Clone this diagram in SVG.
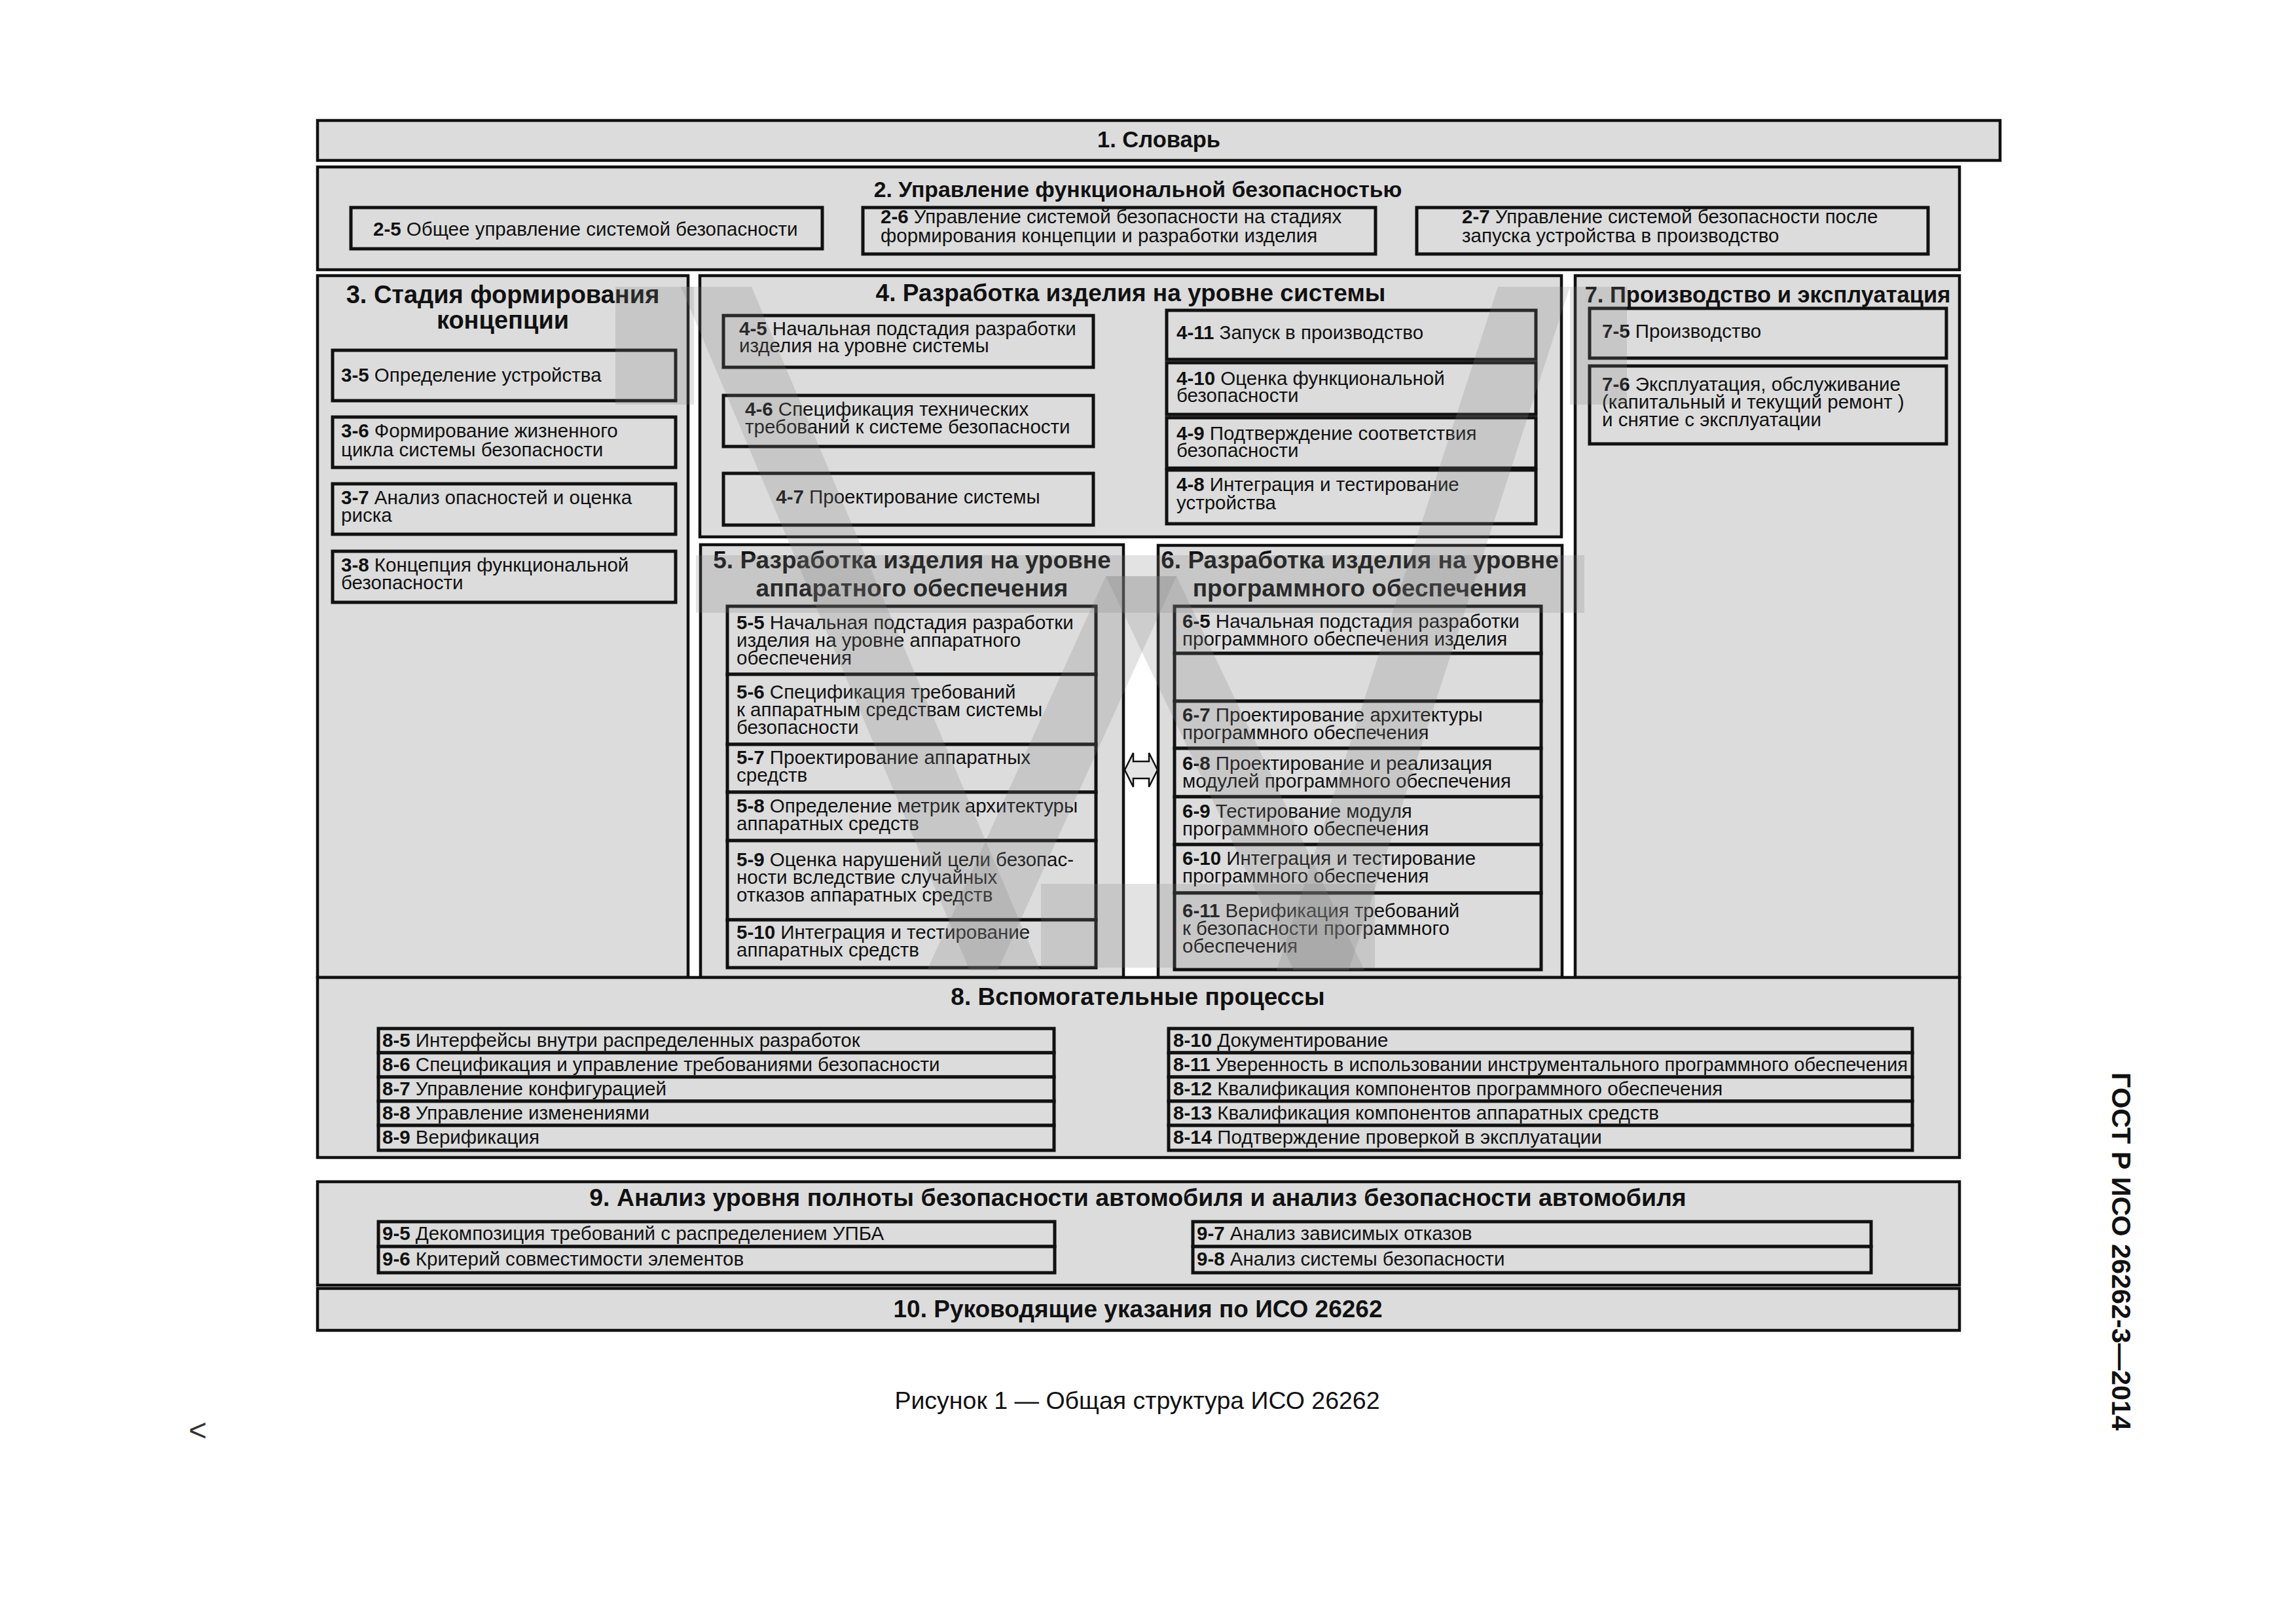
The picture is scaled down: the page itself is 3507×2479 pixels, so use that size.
<svg xmlns="http://www.w3.org/2000/svg" width="3507" height="2479" viewBox="0 0 3507 2479">
<style>
.sec{fill:#dcdcdc;stroke:#111;stroke-width:4.5}
.box{fill:#dcdcdc;stroke:#111;stroke-width:5}
text{font-family:'Liberation Sans',Arial,sans-serif;fill:#111}
.t{font-size:29.5px}
.b{font-weight:bold}
.h{font-size:37px;font-weight:bold;text-anchor:middle}
.h2{font-size:34.5px;font-weight:bold;text-anchor:middle}
.wm{fill:#808080;fill-opacity:0.22}
</style>
<rect width="3507" height="2479" fill="#fff"/>

<g id="n1">
<rect class="sec" x="485" y="184" width="2570" height="61"/>
<text class="h2" x="1770" y="225">1. Словарь</text>
</g>

<g id="n2">
<rect class="sec" x="485" y="255" width="2508" height="157"/>
<text class="h2" x="1738" y="301" style="font-size:33.8px">2. Управление функциональной безопасностью</text>
<g id="n2-5"><rect class="box" x="536" y="317" width="720" height="63"/>
<text class="t" x="570" y="360"><tspan class="b">2-5</tspan> Общее управление системой безопасности</text></g>
<g id="n2-6"><rect class="box" x="1318" y="317" width="783" height="71"/>
<text class="t" x="1345" y="341"><tspan class="b">2-6</tspan> Управление системой безопасности на стадиях</text>
<text class="t" x="1345" y="370">формирования концепции и разработки изделия</text></g>
<g id="n2-7"><rect class="box" x="2164" y="317" width="781" height="71"/>
<text class="t" x="2233" y="341"><tspan class="b">2-7</tspan> Управление системой безопасности после</text>
<text class="t" x="2233" y="370">запуска устройства в производство</text></g>
</g>

<g id="n3">
<rect class="sec" x="485" y="421" width="566" height="1072"/>
<text class="h" x="768" y="463" style="font-size:38px">3. Стадия формирования</text>
<text class="h" x="768" y="502" style="font-size:38px">концепции</text>
<g id="n3-5"><rect class="box" x="508" y="535" width="524" height="77"/>
<text class="t" x="521" y="583"><tspan class="b">3-5</tspan> Определение устройства</text></g>
<g id="n3-6"><rect class="box" x="508" y="637" width="524" height="77"/>
<text class="t" x="521" y="668"><tspan class="b">3-6</tspan> Формирование жизненного</text>
<text class="t" x="521" y="697">цикла системы безопасности</text></g>
<g id="n3-7"><rect class="box" x="508" y="739" width="524" height="77"/>
<text class="t" x="521" y="770"><tspan class="b">3-7</tspan> Анализ опасностей и оценка</text>
<text class="t" x="521" y="797">риска</text></g>
<g id="n3-8"><rect class="box" x="508" y="842" width="524" height="78"/>
<text class="t" x="521" y="873"><tspan class="b">3-8</tspan> Концепция функциональной</text>
<text class="t" x="521" y="900">безопасности</text></g>
</g>

<g id="n4">
<rect class="sec" x="1069" y="421" width="1316" height="399"/>
<text class="h" x="1727" y="460">4. Разработка изделия на уровне системы</text>
<g id="n4-5"><rect class="box" x="1105" y="482" width="565" height="79"/>
<text class="t" x="1129" y="512"><tspan class="b">4-5</tspan> Начальная подстадия разработки</text>
<text class="t" x="1129" y="538">изделия на уровне системы</text></g>
<g id="n4-6"><rect class="box" x="1105" y="604" width="565" height="78"/>
<text class="t" x="1138" y="635"><tspan class="b">4-6</tspan> Спецификация технических</text>
<text class="t" x="1138" y="662">требований к системе безопасности</text></g>
<g id="n4-7"><rect class="box" x="1105" y="723" width="565" height="79"/>
<text class="t" x="1387" y="769" text-anchor="middle"><tspan class="b">4-7</tspan> Проектирование системы</text></g>
<g id="n4-11"><rect class="box" x="1782" y="474" width="564" height="75"/>
<text class="t" x="1797" y="518"><tspan class="b">4-11</tspan> Запуск в производство</text></g>
<g id="n4-10"><rect class="box" x="1782" y="554" width="564" height="79"/>
<text class="t" x="1797" y="588"><tspan class="b">4-10</tspan> Оценка функциональной</text>
<text class="t" x="1797" y="614">безопасности</text></g>
<g id="n4-9"><rect class="box" x="1782" y="638" width="564" height="77"/>
<text class="t" x="1797" y="672"><tspan class="b">4-9</tspan> Подтверждение соответствия</text>
<text class="t" x="1797" y="698">безопасности</text></g>
<g id="n4-8"><rect class="box" x="1782" y="718" width="564" height="82"/>
<text class="t" x="1797" y="750"><tspan class="b">4-8</tspan> Интеграция и тестирование</text>
<text class="t" x="1797" y="778">устройства</text></g>
</g>

<g id="n7">
<rect class="sec" x="2406" y="421" width="587" height="1072"/>
<text class="h2" x="2700" y="462">7. Производство и эксплуатация</text>
<g id="n7-5"><rect class="box" x="2428" y="471" width="545" height="76"/>
<text class="t" x="2447" y="516"><tspan class="b">7-5</tspan> Производство</text></g>
<g id="n7-6"><rect class="box" x="2428" y="559" width="545" height="119"/>
<text class="t" x="2447" y="597"><tspan class="b">7-6</tspan> Эксплуатация, обслуживание</text>
<text class="t" x="2447" y="624">(капитальный и текущий ремонт )</text>
<text class="t" x="2447" y="651">и снятие с эксплуатации</text></g>
</g>

<g id="n5">
<rect class="sec" x="1070" y="832" width="646" height="661"/>
<text class="h" x="1393" y="868">5. Разработка изделия на уровне</text>
<text class="h" x="1393" y="911">аппаратного обеспечения</text>
<g id="n5-5"><rect class="box" x="1111" y="926" width="563" height="104"/>
<text class="t" x="1125" y="961"><tspan class="b">5-5</tspan> Начальная подстадия разработки</text>
<text class="t" x="1125" y="988">изделия на уровне аппаратного</text>
<text class="t" x="1125" y="1015">обеспечения</text></g>
<g id="n5-6"><rect class="box" x="1111" y="1030" width="563" height="107"/>
<text class="t" x="1125" y="1067"><tspan class="b">5-6</tspan> Спецификация требований</text>
<text class="t" x="1125" y="1094">к аппаратным средствам системы</text>
<text class="t" x="1125" y="1121">безопасности</text></g>
<g id="n5-7"><rect class="box" x="1111" y="1137" width="563" height="73"/>
<text class="t" x="1125" y="1167"><tspan class="b">5-7</tspan> Проектирование аппаратных</text>
<text class="t" x="1125" y="1194">средств</text></g>
<g id="n5-8"><rect class="box" x="1111" y="1210" width="563" height="74"/>
<text class="t" x="1125" y="1241"><tspan class="b">5-8</tspan> Определение метрик архитектуры</text>
<text class="t" x="1125" y="1268">аппаратных средств</text></g>
<g id="n5-9"><rect class="box" x="1111" y="1284" width="563" height="121"/>
<text class="t" x="1125" y="1323"><tspan class="b">5-9</tspan> Оценка нарушений цели безопас-</text>
<text class="t" x="1125" y="1350">ности вследствие случайных</text>
<text class="t" x="1125" y="1377">отказов аппаратных средств</text></g>
<g id="n5-10"><rect class="box" x="1111" y="1405" width="563" height="73"/>
<text class="t" x="1125" y="1434"><tspan class="b">5-10</tspan> Интеграция и тестирование</text>
<text class="t" x="1125" y="1461">аппаратных средств</text></g>
</g>

<g id="n6">
<rect class="sec" x="1769" y="833" width="617" height="660"/>
<text class="h" x="2077" y="868">6. Разработка изделия на уровне</text>
<text class="h" x="2077" y="911">программного обеспечения</text>
<g id="n6-5"><rect class="box" x="1794" y="926" width="560" height="72"/>
<text class="t" x="1806" y="959"><tspan class="b">6-5</tspan> Начальная подстадия разработки</text>
<text class="t" x="1806" y="986">программного обеспечения изделия</text></g>
<g id="n6-6"><rect class="box" x="1794" y="998" width="560" height="73"/></g>
<g id="n6-7"><rect class="box" x="1794" y="1071" width="560" height="72"/>
<text class="t" x="1806" y="1102"><tspan class="b">6-7</tspan> Проектирование архитектуры</text>
<text class="t" x="1806" y="1129">программного обеспечения</text></g>
<g id="n6-8"><rect class="box" x="1794" y="1143" width="560" height="74"/>
<text class="t" x="1806" y="1176"><tspan class="b">6-8</tspan> Проектирование и реализация</text>
<text class="t" x="1806" y="1203">модулей программного обеспечения</text></g>
<g id="n6-9"><rect class="box" x="1794" y="1217" width="560" height="73"/>
<text class="t" x="1806" y="1249"><tspan class="b">6-9</tspan> Тестирование модуля</text>
<text class="t" x="1806" y="1276">программного обеспечения</text></g>
<g id="n6-10"><rect class="box" x="1794" y="1290" width="560" height="74"/>
<text class="t" x="1806" y="1321"><tspan class="b">6-10</tspan> Интеграция и тестирование</text>
<text class="t" x="1806" y="1348">программного обеспечения</text></g>
<g id="n6-11"><rect class="box" x="1794" y="1364" width="560" height="117"/>
<text class="t" x="1806" y="1401"><tspan class="b">6-11</tspan> Верификация требований</text>
<text class="t" x="1806" y="1428">к безопасности программного</text>
<text class="t" x="1806" y="1455">обеспечения</text></g>
</g>

<g id="n8">
<rect class="sec" x="485" y="1493" width="2508" height="275"/>
<text class="h" x="1738" y="1535">8. Вспомогательные процессы</text>
<g id="n8-left">
<rect class="box" x="578" y="1571" width="1032" height="37"/>
<rect class="box" x="578" y="1608" width="1032" height="37"/>
<rect class="box" x="578" y="1645" width="1032" height="37"/>
<rect class="box" x="578" y="1682" width="1032" height="37"/>
<rect class="box" x="578" y="1719" width="1032" height="38"/>
<text class="t" x="584" y="1599"><tspan class="b">8-5</tspan> Интерфейсы внутри распределенных разработок</text>
<text class="t" x="584" y="1636"><tspan class="b">8-6</tspan> Спецификация и управление требованиями безопасности</text>
<text class="t" x="584" y="1673"><tspan class="b">8-7</tspan> Управление конфигурацией</text>
<text class="t" x="584" y="1710"><tspan class="b">8-8</tspan> Управление изменениями</text>
<text class="t" x="584" y="1747"><tspan class="b">8-9</tspan> Верификация</text>
</g>
<g id="n8-right">
<rect class="box" x="1785" y="1571" width="1136" height="37"/>
<rect class="box" x="1785" y="1608" width="1136" height="37"/>
<rect class="box" x="1785" y="1645" width="1136" height="37"/>
<rect class="box" x="1785" y="1682" width="1136" height="37"/>
<rect class="box" x="1785" y="1719" width="1136" height="38"/>
<text class="t" x="1792" y="1599"><tspan class="b">8-10</tspan> Документирование</text>
<text class="t" x="1792" y="1636" textLength="1122" lengthAdjust="spacingAndGlyphs"><tspan class="b">8-11</tspan> Уверенность в использовании инструментального программного обеспечения</text>
<text class="t" x="1792" y="1673"><tspan class="b">8-12</tspan> Квалификация компонентов программного обеспечения</text>
<text class="t" x="1792" y="1710"><tspan class="b">8-13</tspan> Квалификация компонентов аппаратных средств</text>
<text class="t" x="1792" y="1747"><tspan class="b">8-14</tspan> Подтверждение проверкой в эксплуатации</text>
</g>
</g>

<g id="n9">
<rect class="sec" x="485" y="1805" width="2508" height="158"/>
<text class="h" x="1738" y="1842" style="font-size:37.5px">9. Анализ уровня полноты безопасности автомобиля и анализ безопасности автомобиля</text>
<g id="n9-left">
<rect class="box" x="578" y="1866" width="1033" height="38"/>
<rect class="box" x="578" y="1904" width="1033" height="40"/>
<text class="t" x="584" y="1894"><tspan class="b">9-5</tspan> Декомпозиция требований с распределением УПБА</text>
<text class="t" x="584" y="1933"><tspan class="b">9-6</tspan> Критерий совместимости элементов</text>
</g>
<g id="n9-right">
<rect class="box" x="1822" y="1866" width="1036" height="38"/>
<rect class="box" x="1822" y="1904" width="1036" height="40"/>
<text class="t" x="1828" y="1894"><tspan class="b">9-7</tspan> Анализ зависимых отказов</text>
<text class="t" x="1828" y="1933"><tspan class="b">9-8</tspan> Анализ системы безопасности</text>
</g>
</g>

<g id="n10">
<rect class="sec" x="485" y="1968" width="2508" height="64"/>
<text class="h" x="1738" y="2012">10. Руководящие указания по ИСО 26262</text>
</g>

<g id="connectors">
<path d="M1718,1176 L1731,1150 L1731,1163 L1755,1163 L1755,1150 L1768,1176 L1755,1202 L1755,1189 L1731,1189 L1731,1202 Z" fill="#e4e4e4" stroke="#111" stroke-width="2.5" stroke-linejoin="miter"/>
</g>

<g id="watermark">
<rect class="wm" x="940" y="438" width="120" height="180"/>
<polygon class="wm" points="1040,438 1148,438 1589,1482 1481,1482"/>
<polygon class="wm" points="1689,880 1797,880 1524,1482 1416,1482"/>
<polygon class="wm" points="1689,880 1797,880 2084,1482 1976,1482"/>
<polygon class="wm" points="2288,438 2398,438 2060,1482 1950,1482"/>
<rect class="wm" x="2398" y="438" width="87" height="180"/>
<rect class="wm" x="1063" y="848" width="1357" height="88"/>
<rect class="wm" x="1590" y="1350" width="510" height="128"/>
</g>

<text x="1737" y="2152" text-anchor="middle" style="font-size:37.5px">Рисунок 1 — Общая структура ИСО 26262</text>
<text x="288" y="2201" style="font-size:48px;fill:#333">&lt;</text>
<text transform="translate(3226,1638) rotate(90)" x="0" y="0" textLength="547" lengthAdjust="spacingAndGlyphs" style="font-size:41px;font-weight:bold">ГОСТ Р ИСО 26262-3—2014</text>
</svg>
